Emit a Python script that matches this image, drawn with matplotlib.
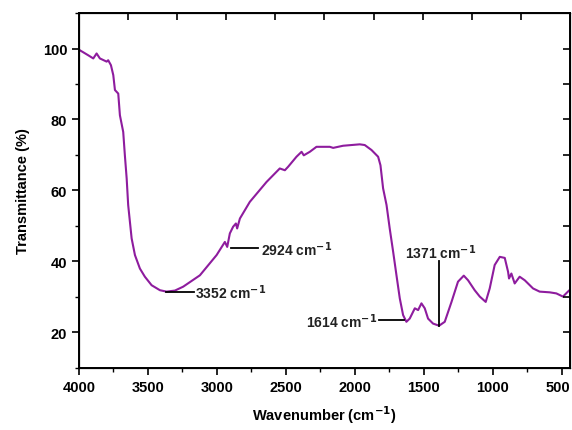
import matplotlib
matplotlib.use("Agg")
import matplotlib.pyplot as plt
from matplotlib.ticker import MultipleLocator
from matplotlib.transforms import ScaledTranslation

plt.rcParams['font.family'] = ['Liberation Sans', 'DejaVu Sans']

wavenumber = [3993, 3933, 3896, 3872, 3848, 3799, 3788, 3768, 3751, 3739, 3715, 3703,
              3679, 3667, 3654, 3643, 3618, 3594, 3558, 3522, 3473, 3413, 3365, 3304,
              3244, 3123, 3002, 2942, 2925, 2906, 2882, 2862, 2853, 2833, 2761, 2640,
              2544, 2507, 2483, 2423, 2386, 2370, 2326, 2278, 2181, 2157, 2085, 1964,
              1928, 1879, 1831, 1814, 1795, 1770, 1747, 1722, 1698, 1674, 1650, 1626,
              1602, 1565, 1541, 1517, 1493, 1469, 1433, 1389, 1348, 1299, 1252, 1210,
              1179, 1131, 1094, 1051, 1022, 986, 949, 913, 889, 882, 865, 841, 805,
              768, 708, 660, 587, 539, 491, 455, 430]
transmittance = [99.5, 98.1, 97.2, 98.6, 97.2, 96.3, 96.7, 95.3, 92.5, 88.3, 87.3, 81.2,
                 76.5, 69.9, 63.4, 55.9, 46.5, 41.8, 38.0, 35.7, 33.3, 31.9, 31.5, 31.8,
                 32.9, 36.1, 41.8, 45.5, 44.1, 47.9, 49.8, 50.7, 49.3, 52.1, 56.8, 62.4,
                 66.2, 65.7, 66.7, 69.5, 70.9, 69.9, 70.9, 72.3, 72.3, 72.0, 72.6, 73.0,
                 72.8, 71.4, 69.5, 67.1, 60.6, 55.9, 49.3, 42.7, 36.1, 29.6, 24.9, 23.0,
                 23.9, 26.8, 26.3, 28.2, 26.8, 23.9, 22.5, 21.9, 23.0, 28.6, 34.3, 36.0,
                 34.7, 31.9, 30.1, 28.6, 32.4, 39.0, 41.3, 41.0, 37.1, 35.2, 36.6, 33.8,
                 35.7, 34.7, 32.4, 31.5, 31.3, 31.0, 30.1, 31.5, 32.4]

peak_labels = ["3352", "2924", "1614", "1371"]
x_ticks = [4000, 3500, 3000, 2500, 2000, 1500, 1000, 500]
y_ticks = [20, 40, 60, 80, 100]

fig = plt.figure(figsize=(5.72, 4.31), dpi=100)
ax = fig.add_axes([0.138, 0.144, 0.8585, 0.8235])
ax.plot(wavenumber, transmittance, color='#8E1C9E', lw=1.5)

ax.set_xlim(4000, 440)
ax.set_ylim(10, 110)
ax.set_xticks(x_ticks)
ax.set_yticks(y_ticks)
ax.xaxis.set_minor_locator(MultipleLocator(250))
ax.yaxis.set_minor_locator(MultipleLocator(10))
ax.tick_params(which='major', direction='out', length=5, width=1.2, labelsize=10.5)
ax.tick_params(which='minor', direction='out', length=3, width=1.0)
for lbl in ax.get_xticklabels() + ax.get_yticklabels():
    lbl.set_fontweight('bold')
last = ax.get_xticklabels()[-1]
last.set_transform(last.get_transform() + ScaledTranslation(-4 / 100, 0, fig.dpi_scale_trans))
for s in ax.spines.values():
    s.set_linewidth(1.4)

# mirror axes (top / right) with inward ticks
axt = ax.twiny()
axt.set_xlim(0, 10)
axt.set_xticks(range(1, 10))
axt.tick_params(direction='in', length=5, width=1.2, labeltop=False)
axr = ax.twinx()
axr.set_ylim(10, 110)
axr.set_yticks(range(20, 101, 10))
axr.tick_params(direction='in', length=5, width=1.2, labelright=False)

ax.set_xlabel('Wavenumber (cm$^{\\mathbf{-1}}$)', fontsize=10.5, fontweight='bold', labelpad=7)
ax.set_ylabel('Transmittance (%)', fontsize=10.5, fontweight='bold', labelpad=9)

tk = dict(fontsize=10, fontweight='bold', color='#222222')
lk = dict(color='black', lw=1.3)
# 3352
ax.plot([3370, 3167], [31.5, 31.5], **lk)
ax.text(3160, 31.5, peak_labels[0] + ' cm$^{\\mathbf{-1}}$', va='center', ha='left', **tk)
# 2924
ax.plot([2894, 2701], [43.7, 43.7], **lk)
ax.text(2681, 43.7, peak_labels[1] + ' cm$^{\\mathbf{-1}}$', va='center', ha='left', **tk)
# 1614
ax.plot([1826, 1645], [23.5, 23.5], **lk)
ax.text(1841, 23.3, peak_labels[2] + ' cm$^{\\mathbf{-1}}$', va='center', ha='right', **tk)
# 1371
ax.plot([1389, 1389], [40.0, 21.8], **lk)
ax.text(1375, 42.8, peak_labels[3] + ' cm$^{\\mathbf{-1}}$', va='center', ha='center', **tk)

fig.savefig('out.png', dpi=100)
